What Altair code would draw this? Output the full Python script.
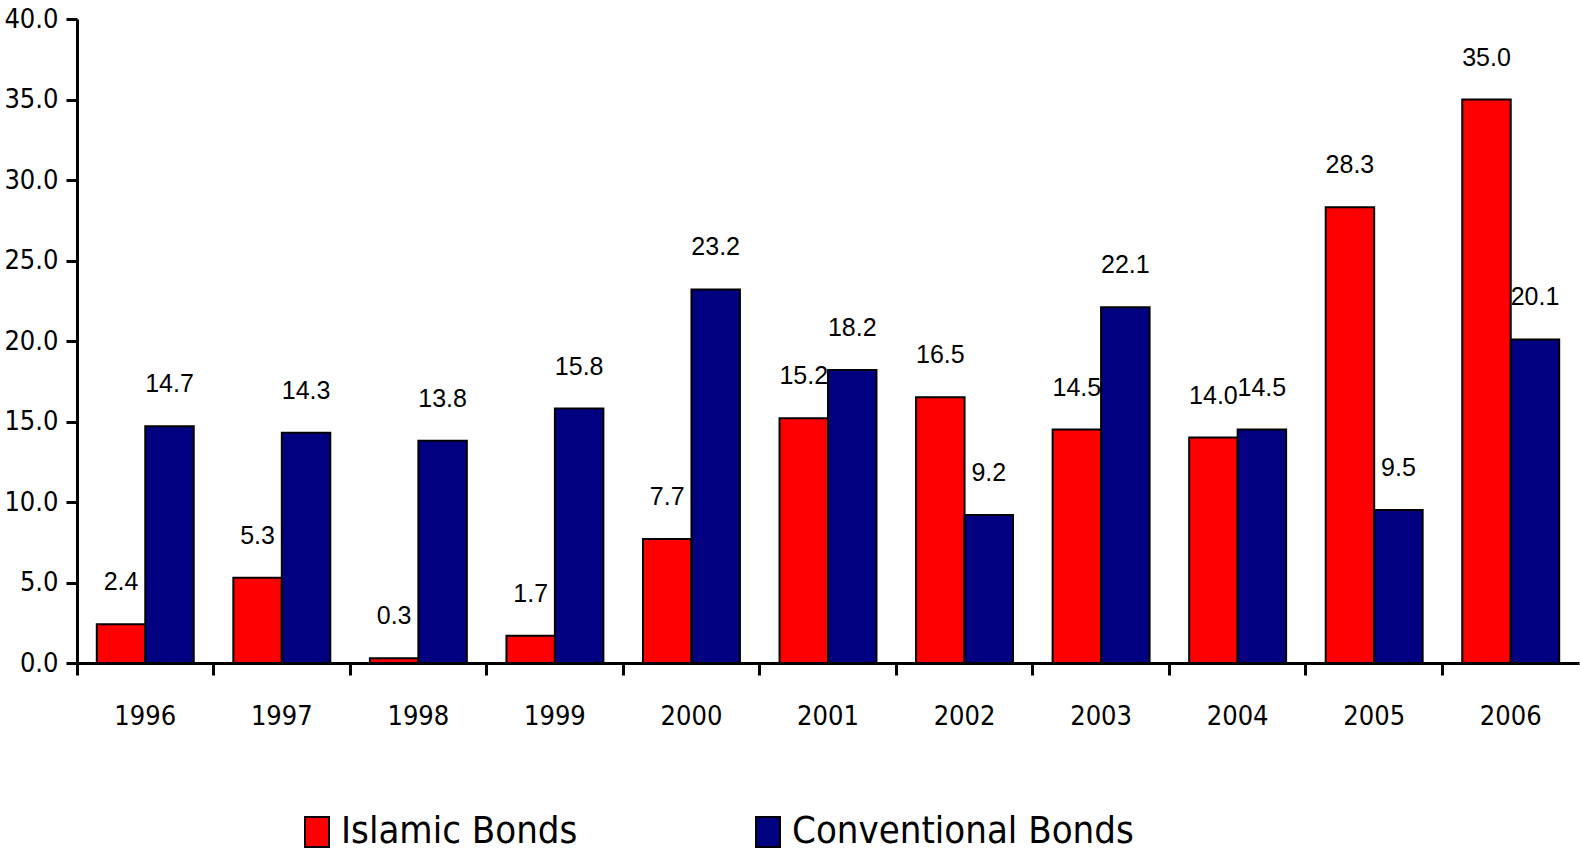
import altair as alt
import pandas as pd

years = ["1996", "1997", "1998", "1999", "2000", "2001", "2002", "2003", "2004", "2005", "2006"]
islamic = [2.4, 5.3, 0.3, 1.7, 7.7, 15.2, 16.5, 14.5, 14.0, 28.3, 35.0]
conventional = [14.7, 14.3, 13.8, 15.8, 23.2, 18.2, 9.2, 22.1, 14.5, 9.5, 20.1]
series = ["Islamic Bonds", "Conventional Bonds"]
colors = ["#FF0000", "#000080"]

rows = []
for i, y in enumerate(years):
    rows.append({"year": y, "series": series[0], "value": islamic[i]})
    rows.append({"year": y, "series": series[1], "value": conventional[i]})
df = pd.DataFrame(rows)

NARROW = "DejaVu Sans Condensed, Liberation Sans, sans-serif"
REGULAR = "Liberation Sans, Arial, sans-serif"

x_enc = alt.X(
    "year:N",
    sort=years,
    scale=alt.Scale(paddingInner=0.29, paddingOuter=0.145),
    axis=alt.Axis(
        title=None,
        labelAngle=0,
        labelFont=NARROW,
        labelFontSize=27,
        labelColor="black",
        labelPadding=28,
        tickSize=12,
        tickWidth=3,
        tickColor="black",
        domainColor="black",
        domainWidth=3,
        bandPosition=-0.204,
    ),
)
xoff = alt.XOffset("series:N", sort=series)
y_enc = alt.Y(
    "value:Q",
    scale=alt.Scale(domain=[0, 40], nice=False),
    axis=alt.Axis(
        title=None,
        values=[0, 5, 10, 15, 20, 25, 30, 35, 40],
        format=".1f",
        labelFont=NARROW,
        labelFontSize=27,
        labelColor="black",
        labelPadding=8,
        tickSize=11,
        tickWidth=3,
        tickColor="black",
        domainColor="black",
        domainWidth=3,
        grid=False,
    ),
)

bars = alt.Chart(df).mark_bar(stroke="black", strokeWidth=2).encode(
    x=x_enc,
    xOffset=xoff,
    y=y_enc,
    fill=alt.Fill(
        "series:N",
        sort=series,
        scale=alt.Scale(domain=series, range=colors),
        legend=alt.Legend(
            title=None,
            orient="none",
            direction="horizontal",
            legendX=221,
            legendY=794,
            labelFont=NARROW,
            labelFontSize=38,
            labelLimit=600,
            labelColor="black",
            labelOffset=5,
            symbolType="M-0.8,-1H0.8V1H-0.8Z",
            symbolSize=900,
            symbolStrokeColor="black",
            symbolStrokeWidth=2,
            columnPadding=171,
            padding=0,
        ),
    ),
)

labels = alt.Chart(df).mark_text(
    font=REGULAR, fontSize=25, color="black", baseline="middle", dy=-42
).encode(
    x=alt.X("year:N", sort=years),
    xOffset=xoff,
    y=alt.Y("value:Q"),
    text=alt.Text("value:Q", format=".1f"),
)

chart = (
    alt.layer(bars, labels)
    .properties(
        width=1502,
        height=644,
        autosize=alt.AutoSizeParams(type="none"),
        padding={"left": 77, "top": 19, "right": 1, "bottom": 191},
        background="white",
    )
    .configure_view(stroke=None)
)

chart.save("out.html", embed_options={"renderer": "svg", "actions": False})
